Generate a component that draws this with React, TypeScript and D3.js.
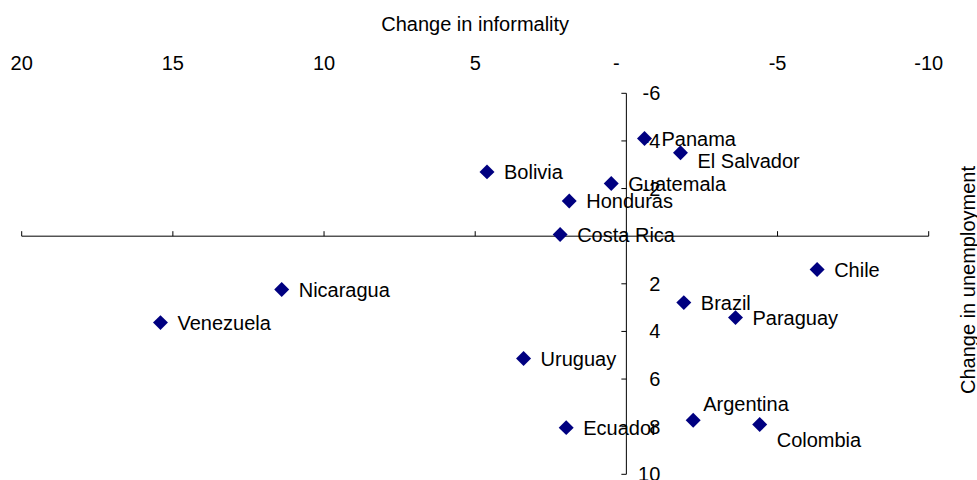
import React from "react";
import * as d3 from "d3";

const countries = ["Panama", "El Salvador", "Bolivia", "Guatemala", "Honduras", "Costa Rica", "Chile", "Nicaragua", "Venezuela", "Brazil", "Paraguay", "Uruguay", "Argentina", "Colombia", "Ecuador"];
const informalityChange = [-0.6, -1.79, 4.61, 0.5, 1.89, 2.19, -6.31, 11.4, 15.41, -1.9, -3.61, 3.4, -2.21, -4.41, 1.99];
const unemploymentChange = [-4.1, -3.5, -2.7, -2.21, -1.48, -0.07, 1.4, 2.24, 3.63, 2.79, 3.42, 5.14, 7.73, 7.91, 8.04];

const xTicks = [20, 15, 10, 5, 0, -5, -10];
const yTicks = [-6, -4, -2, 2, 4, 6, 8, 10];
const yTickMarks = [-6, -4, -2, 0, 2, 4, 6, 8, 10];

const xTitle = "Change in informality";
const yTitle = "Change in unemployment";

// label placement tweaks (style, not data)
const labelShift: Record<string, [number, number]> = {
  "El Salvador": [17, 8],
  Colombia: [17, 15],
  Argentina: [10, -16],
};

const W = 977;
const H = 480;
const FONT = "'Liberation Sans', Arial, sans-serif";
const FS = 20;

export default function App() {
  const x = d3.scaleLinear().domain([20, -10]).range([21.7, 928.7]);
  const y = d3.scaleLinear().domain([-6, 10]).range([93.3, 474.3]);
  const x0 = x(0);
  const y0 = y(0);
  const diamond = d3.symbol().type(d3.symbolSquare).size(112)() as string;
  const fmt = (v: number) => (v === 0 ? "-" : String(v));

  const points = countries.map((c, i) => ({
    name: c,
    xv: informalityChange[i],
    yv: unemploymentChange[i],
  }));

  return (
    <svg
      width={W}
      height={H}
      style={{ position: "absolute", left: 0, top: 0, background: "#fff" }}
      fontFamily={FONT}
      fontSize={FS}
    >
      <rect width={W} height={H} fill="#fff" />
      {/* X title */}
      <text x={(x(20) + x(-10)) / 2} y={31} textAnchor="middle" fill="#000">
        {xTitle}
      </text>
      {/* X tick labels */}
      {xTicks.map((t) => (
        <text
          key={"xl" + t}
          x={x(t) + (t === 0 ? -10 : 0)}
          y={69.5}
          textAnchor="middle"
          fill="#000"
        >
          {fmt(t)}
        </text>
      ))}
      {/* horizontal axis */}
      <line x1={x(20)} x2={x(-10)} y1={y0} y2={y0} stroke="#000" strokeWidth={1} />
      {xTicks.map((t) => (
        <line key={"xt" + t} x1={x(t)} x2={x(t)} y1={y0} y2={y0 - 5} stroke="#000" strokeWidth={1} />
      ))}
      {/* vertical axis */}
      <line x1={x0} x2={x0} y1={y(-6)} y2={y(10)} stroke="#000" strokeWidth={1} />
      {yTickMarks.map((t) => (
        <line key={"yt" + t} x1={x0 - 5} x2={x0} y1={y(t)} y2={y(t)} stroke="#000" strokeWidth={1} />
      ))}
      {yTicks.map((t) => (
        <text key={"yl" + t} x={x0 + 34} y={y(t)} dy="0.35em" textAnchor="end" fill="#000">
          {fmt(t)}
        </text>
      ))}
      {/* Y title */}
      <text
        transform={`translate(975, 280) rotate(-90)`}
        textAnchor="middle"
        fill="#000"
      >
        {yTitle}
      </text>
      {/* points */}
      {points.map((p) => (
        <path
          key={"p" + p.name}
          d={diamond}
          transform={`translate(${x(p.xv)},${y(p.yv)}) rotate(45)`}
          fill="#000080"
        />
      ))}
      {/* labels */}
      {points.map((p) => {
        const s = labelShift[p.name] || [17, 0];
        return (
          <text
            key={"l" + p.name}
            x={x(p.xv) + s[0]}
            y={y(p.yv) + s[1]}
            dy="0.35em"
            fill="#000"
          >
            {p.name}
          </text>
        );
      })}
    </svg>
  );
}
